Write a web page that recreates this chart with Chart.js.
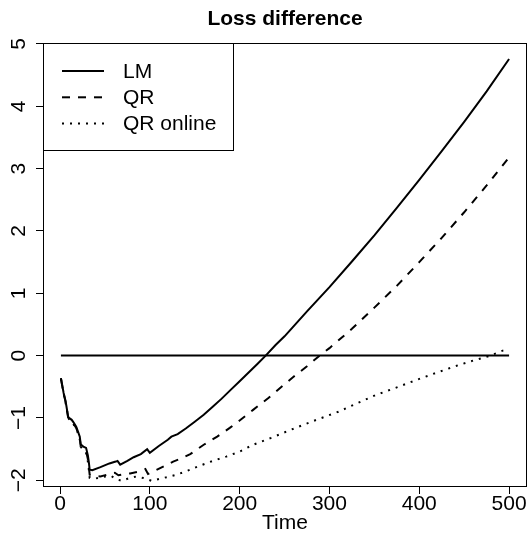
<!DOCTYPE html>
<html lang="en">
  <head>
    <meta charset="UTF-8" />
    <title>Loss difference</title>
    <script src="https://cdn.jsdelivr.net/npm/chart.js@4.4.1/dist/chart.umd.min.js"></script>
    <style>
      body { margin: 0; background: #fff; }
      canvas { display: block; }
    </style>
  </head>
  <body>
    <canvas id="grafico" width="529" height="544"></canvas>
    <script>
      // cumulative loss difference over time, one series per model
      var lmTime = [1, 3, 4, 6, 7, 9, 10, 13, 15, 18, 20, 22, 23, 26, 29, 31, 32, 33, 36, 45, 55, 62, 64, 67, 75, 82, 90, 97, 100, 110, 120, 124, 131, 140, 150, 160, 170, 180, 190, 200, 210, 220, 229, 240, 250, 260, 275, 300, 325, 350, 375, 400, 425, 450, 475, 500];
      var lmLoss = [-0.36, -0.52, -0.6, -0.72, -0.8, -0.98, -1.0, -1.03, -1.07, -1.14, -1.22, -1.3, -1.42, -1.46, -1.48, -1.6, -1.7, -1.83, -1.84, -1.79, -1.73, -1.7, -1.69, -1.75, -1.69, -1.63, -1.58, -1.5, -1.56, -1.45, -1.35, -1.3, -1.26, -1.17, -1.06, -0.95, -0.82, -0.69, -0.55, -0.41, -0.27, -0.13, 0.0, 0.17, 0.31, 0.47, 0.71, 1.1, 1.51, 1.93, 2.37, 2.82, 3.28, 3.75, 4.24, 4.76];

      var qrTime = [1, 3, 4, 6, 7, 9, 10, 13, 15, 18, 20, 22, 23, 26, 29, 31, 32, 33, 38, 45, 55, 61, 65, 72, 78, 88, 95, 98, 108, 118, 126, 135, 145, 160, 175, 189, 200, 215, 232, 250, 260, 275, 289, 300, 325, 350, 375, 400, 425, 450, 475, 500];
      var qrLoss = [-0.37, -0.53, -0.61, -0.73, -0.81, -0.99, -1.01, -1.04, -1.09, -1.16, -1.24, -1.33, -1.45, -1.5, -1.53, -1.66, -1.78, -1.91, -1.93, -1.94, -1.9, -1.88, -1.92, -1.9, -1.89, -1.86, -1.82, -1.9, -1.83, -1.76, -1.7, -1.65, -1.58, -1.43, -1.3, -1.16, -1.04, -0.87, -0.68, -0.46, -0.34, -0.17, 0.0, 0.12, 0.43, 0.77, 1.12, 1.5, 1.89, 2.3, 2.73, 3.18];

      var onlineTime = [1, 3, 4, 6, 7, 9, 10, 13, 15, 18, 20, 22, 23, 26, 29, 31, 32, 33, 40, 50, 57, 62, 69, 78, 85, 95, 102, 113, 122, 130, 145, 155, 170, 185, 200, 215, 235, 257, 280, 310, 330, 352, 375, 397, 420, 440, 460, 477, 493, 500];
      var onlineLoss = [-0.37, -0.53, -0.61, -0.74, -0.82, -0.99, -1.02, -1.05, -1.1, -1.17, -1.25, -1.34, -1.46, -1.52, -1.56, -1.7, -1.82, -1.96, -1.97, -1.94, -1.93, -1.98, -2.01, -1.96, -1.94, -1.97, -2.01, -1.97, -1.94, -1.91, -1.83, -1.77, -1.69, -1.62, -1.54, -1.43, -1.32, -1.19, -1.06, -0.9, -0.77, -0.63, -0.51, -0.39, -0.27, -0.17, -0.08, -0.01, 0.08, 0.1];

      var zeroTime = [1, 500];
      var zeroLoss = [0, 0];

      var seriesNames = ['LM', 'QR', 'QR online'];
      var xTicks = [0, 100, 200, 300, 400, 500];
      var yTicks = [-2, -1, 0, 1, 2, 3, 4, 5];

      var familia = '"Liberation Sans", Arial, Helvetica, sans-serif';
      var fonte = '21px ' + familia;

      function pontos(ts, vs) {
        return ts.map(function (t, i) {
          return { x: t, y: vs[i] };
        });
      }

      // box round the plot, rotated y labels and the legend
      var moldura = {
        id: 'moldura',
        afterDraw: function (chart) {
          var ctx = chart.ctx;
          var a = chart.chartArea;
          var escalaY = chart.scales.y;
          ctx.save();
          ctx.strokeStyle = '#000';
          ctx.lineWidth = 1;
          ctx.setLineDash([]);
          ctx.strokeRect(a.left + 0.5, a.top + 0.5, a.right - a.left - 1, a.bottom - a.top - 1);

          ctx.fillStyle = '#000';
          ctx.font = fonte;
          ctx.textAlign = 'center';
          ctx.textBaseline = 'alphabetic';
          escalaY.ticks.forEach(function (t) {
            var py = escalaY.getPixelForValue(t.value);
            ctx.save();
            ctx.translate(a.left - 18, py);
            ctx.rotate(-Math.PI / 2);
            ctx.fillText(String(t.value).replace('-', '\u2212'), 0, 0);
            ctx.restore();
          });

          // legend
          var lx = a.left, ly = a.top;
          ctx.strokeRect(lx + 0.5, ly + 0.5, 190, 107);
          ctx.textAlign = 'left';
          ctx.textBaseline = 'middle';
          seriesNames.forEach(function (nome, i) {
            var ds = chart.data.datasets[i];
            var yy = ly + 28 + i * 26.3;
            ctx.save();
            ctx.lineWidth = 2;
            ctx.setLineDash(ds.borderDash || []);
            ctx.beginPath();
            ctx.moveTo(lx + 19, yy);
            ctx.lineTo(lx + 61, yy);
            ctx.stroke();
            ctx.restore();
            ctx.fillText(nome, lx + 80, yy + 1);
          });
          ctx.restore();
        }
      };

      var canvas = document.getElementById('grafico');
      var chart = new Chart(canvas, {
        type: 'line',
        data: {
          datasets: [
            {
              label: seriesNames[0],
              data: pontos(lmTime, lmLoss),
              borderColor: '#000',
              borderWidth: 2,
            },
            {
              label: seriesNames[1],
              data: pontos(qrTime, qrLoss),
              borderColor: '#000',
              borderWidth: 2,
              borderDash: [8, 8],
            },
            {
              label: seriesNames[2],
              data: pontos(onlineTime, onlineLoss),
              borderColor: '#000',
              borderWidth: 2,
              borderDash: [2, 6],
            },
            {
              label: 'zero',
              data: pontos(zeroTime, zeroLoss),
              borderColor: '#000',
              borderWidth: 2,
            },
          ],
        },
        options: {
          responsive: false,
          animation: false,
          devicePixelRatio: 1,
          elements: { point: { radius: 0 }, line: { tension: 0 } },
          layout: { padding: { left: 0, right: 2, top: 0, bottom: 0 } },
          plugins: {
            legend: { display: false },
            tooltip: { enabled: false },
            title: {
              display: true,
              text: 'Loss difference',
              fullSize: false,
              color: '#000',
              font: { family: familia, size: 21, weight: 'bold', lineHeight: 1.2 },
              padding: { top: 6.5, bottom: 11.3 },
            },
          },
          scales: {
            x: {
              type: 'linear',
              min: -18.96,
              max: 519.96,
              afterFit: function (s) { s.height = 57; },
              afterBuildTicks: function (s) {
                s.ticks = xTicks.map(function (v) { return { value: v }; });
              },
              border: { display: false },
              grid: { drawOnChartArea: false, drawTicks: true, tickLength: 7, color: '#000' },
              ticks: {
                color: '#000',
                padding: 0,
                maxRotation: 0,
                font: { family: familia, size: 21, lineHeight: 1 },
              },
              title: {
                display: true,
                text: 'Time',
                color: '#000',
                font: { family: familia, size: 21, lineHeight: 1 },
                padding: { top: 0, bottom: 10.5 },
              },
            },
            y: {
              type: 'linear',
              min: -2.108,
              max: 5.016,
              afterFit: function (s) { s.width = 43; },
              afterBuildTicks: function (s) {
                s.ticks = yTicks.map(function (v) { return { value: v }; });
              },
              border: { display: false },
              grid: { drawOnChartArea: false, drawTicks: true, tickLength: 7, color: '#000' },
              ticks: { display: false },
            },
          },
        },
        plugins: [moldura],
      });
    </script>
  </body>
</html>
